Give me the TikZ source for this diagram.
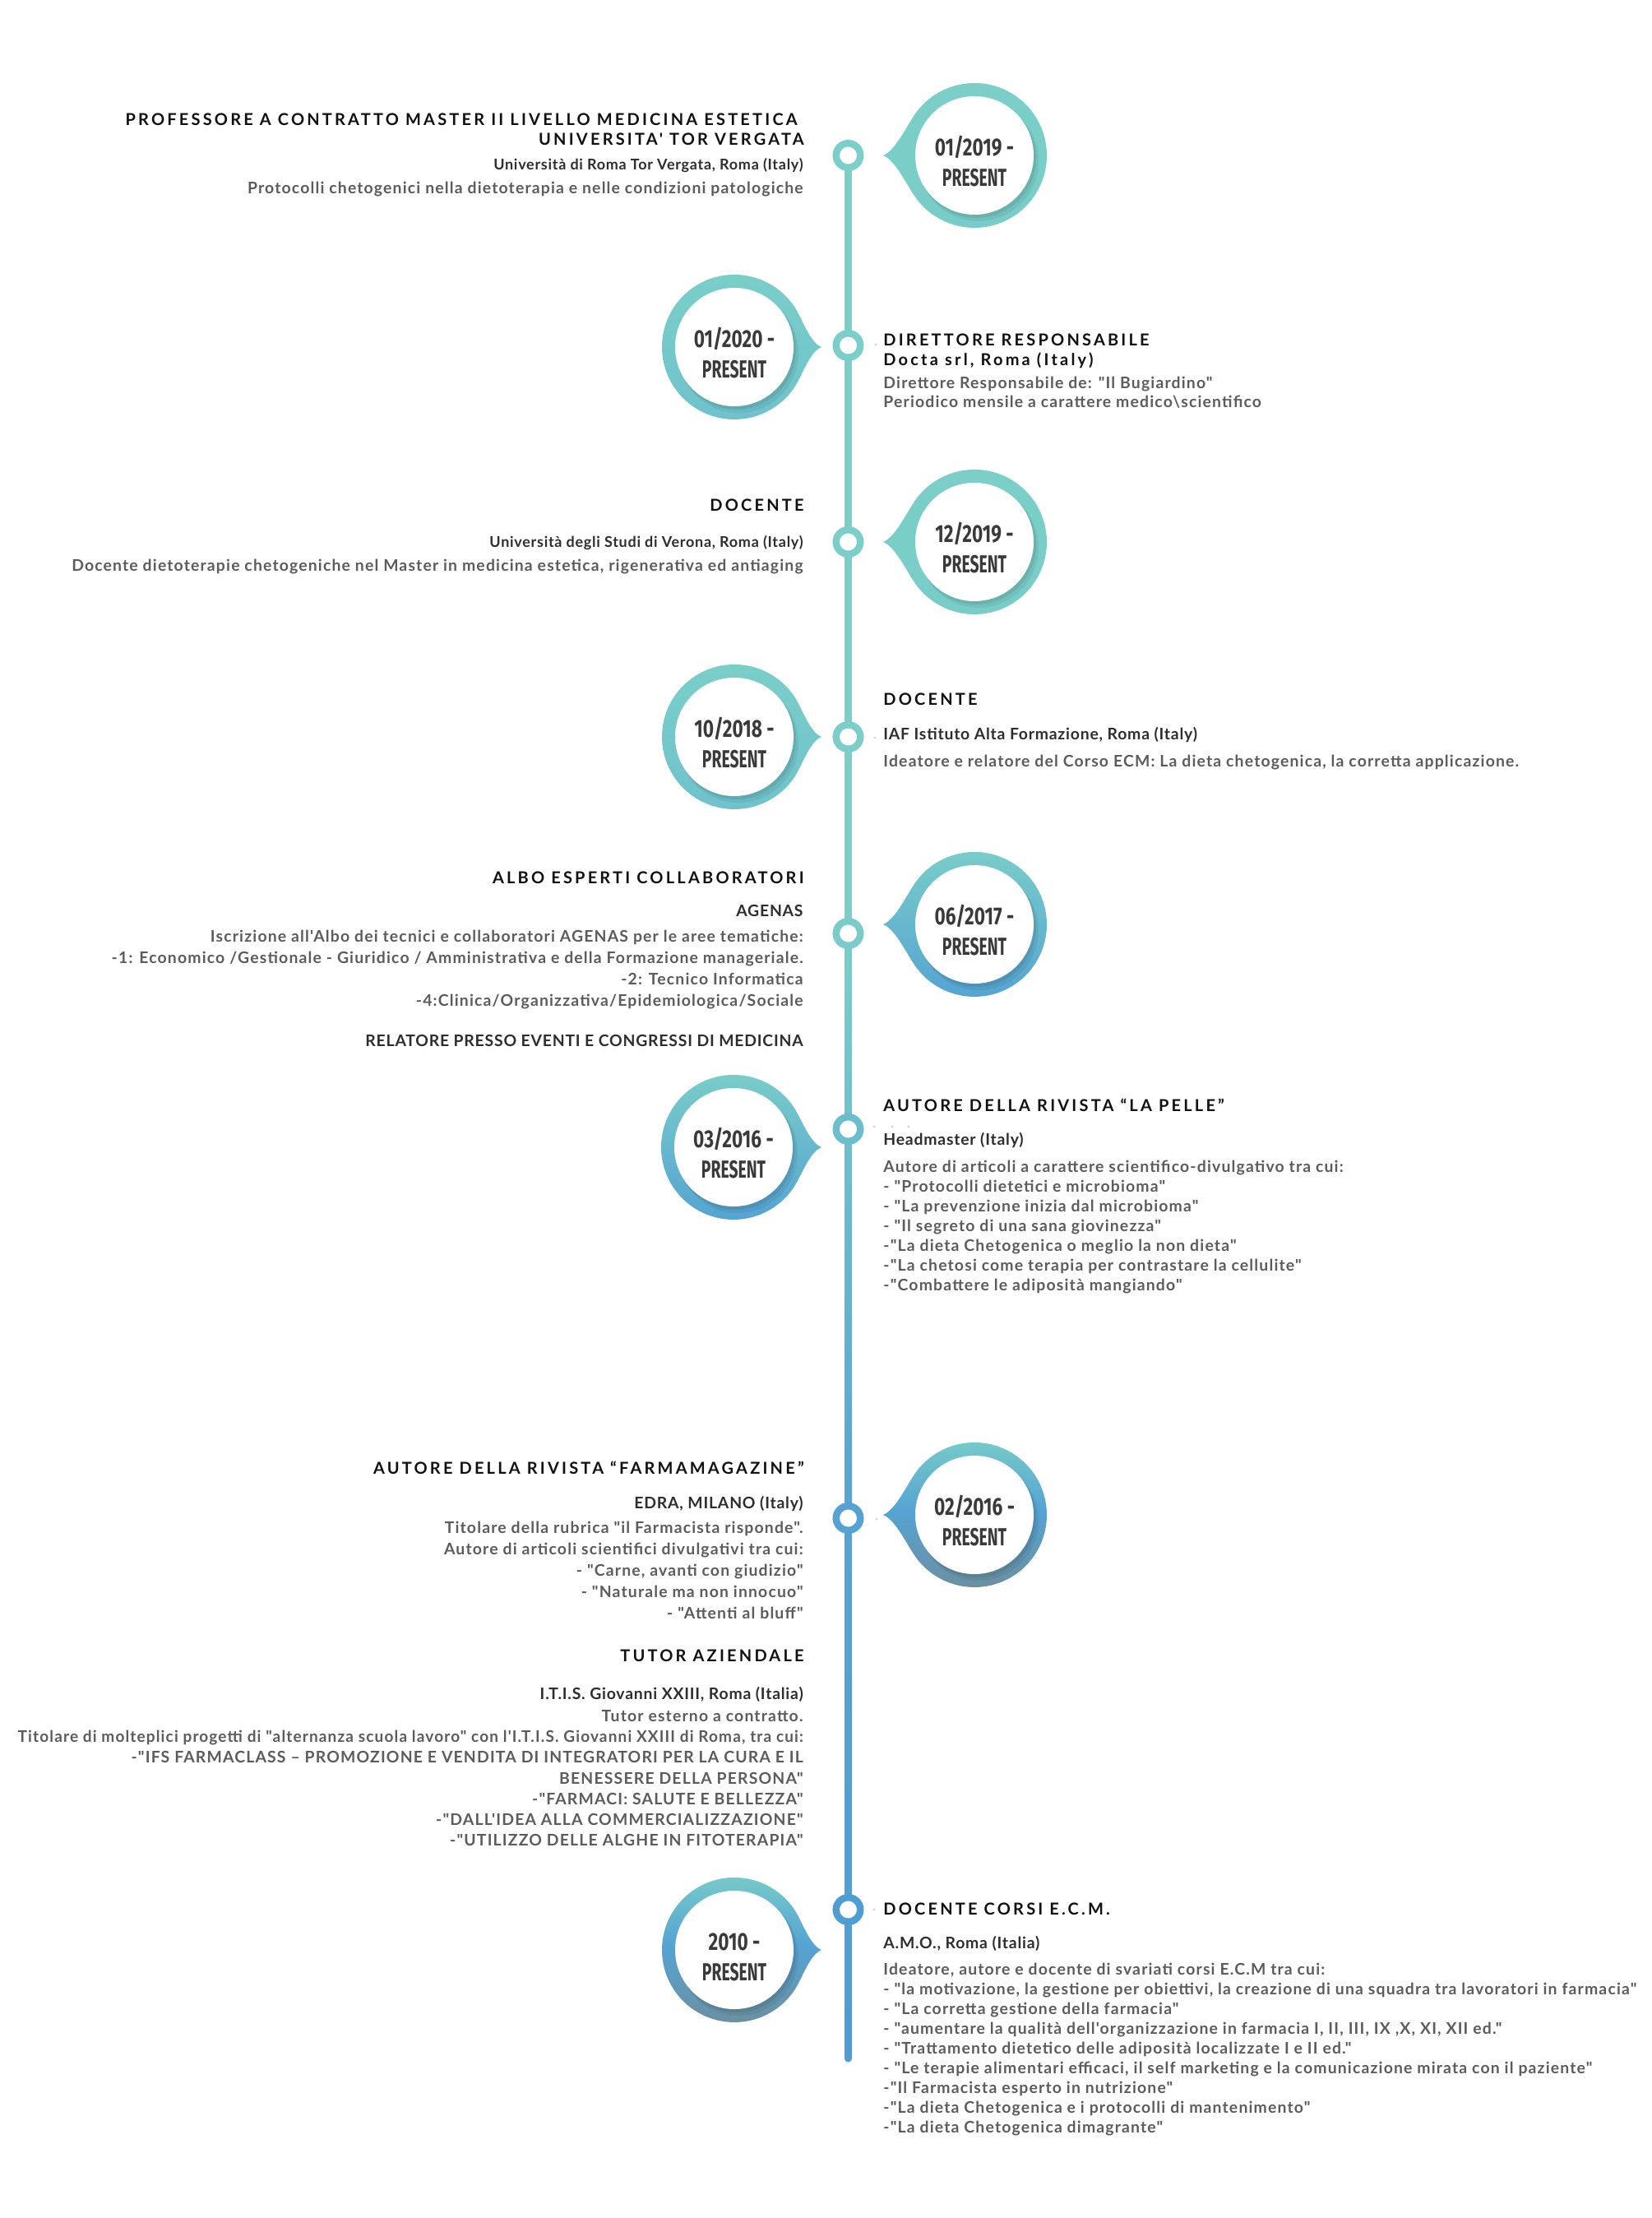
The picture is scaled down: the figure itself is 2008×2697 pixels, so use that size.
\documentclass[tikz,border=0pt]{standalone}
\usepackage{fontspec}
\setmainfont{Lato}
\newfontfamily\hfont{Lato}[LetterSpace=16]
\newfontfamily\bfont{Lato}[LetterSpace=6]
\newfontfamily\sfont{Lato}[LetterSpace=4]
\newfontfamily\dfont{Fira Sans}
\definecolor{tealc}{HTML}{7BCFC8}
\definecolor{tealb}{HTML}{6FC2CC}
\definecolor{bluec}{HTML}{55A3D3}
\definecolor{blued}{HTML}{4E9ED3}
\definecolor{grayb}{HTML}{6C8FA0}
\definecolor{headc}{HTML}{111111}
\definecolor{subc}{HTML}{2E2E2E}
\definecolor{bodyc}{HTML}{5C5C5C}
\definecolor{datec}{HTML}{3A3A3A}
\definecolor{dotc}{HTML}{D2D2D2}
\definecolor{ring6}{HTML}{6DBECC}
\definecolor{ring5}{HTML}{7ACBCA}
% bubble: #1 cx, #2 cy, #3 direction (+1 pointer right, -1 pointer left), #4 start angle, #5 end angle, #6 shading, #7 tip distance
\newcommand\bub[7]{%
  \shade[#6] ({#1+72.1*(#3)},{#2-50.5}) arc[start angle=#4,end angle=#5,radius=88]
    .. controls ({#1+82.4*(#3)},{#2+35.8}) and ({#1+(#7-15)*(#3)},{#2+6}) .. ({#1+#7*(#3)},{#2})
    .. controls ({#1+(#7-15)*(#3)},{#2-6}) and ({#1+82.4*(#3)},{#2-35.8}) .. cycle;
  \fill[black,opacity=.06] ({#1+5},{#2+7}) circle[radius=73];
  \fill[black,opacity=.07] ({#1+2.5},{#2+3.5}) circle[radius=72.5];
  \fill[white] (#1,#2) circle[radius=72];
}
\begin{document}
\begin{tikzpicture}[x=0.5pt,y=-0.5pt,
  head/.style={font=\hfont\bfseries\fontsize{10}{12}\selectfont, text=headc, inner sep=0},
  sub/.style={font=\sfont\bfseries\fontsize{9.7}{12}\selectfont, text=subc, inner sep=0},
  subn/.style={font=\sfont\bfseries\fontsize{9.0}{12}\selectfont, text=subc, inner sep=0},
  body/.style={font=\bfont\bfseries\fontsize{9.7}{12}\selectfont, text=bodyc, inner sep=0},
  L/.style={anchor=base east}, R/.style={anchor=base west},
  ring/.style={circle, fill=white, line width=4.25pt, minimum size=14.75pt, inner sep=0},
  datet/.style={font=\dfont\bfseries\fontsize{15}{15}\selectfont, text=datec, inner sep=0, anchor=base},
  dot/.style={fill=dotc}
]
\useasboundingbox (0,0) rectangle (2008,2697);
\fill[white] (0,0) rectangle (2008,2697);

% ---------- timeline positions ----------
\coordinate (p1) at (1031.5,189);
\coordinate (p2) at (1031.5,420);
\coordinate (p3) at (1031.5,659);
\coordinate (p4) at (1031.5,896);
\coordinate (p5) at (1031.5,1135);
\coordinate (p6) at (1031.5,1373);
\coordinate (p7) at (1031.5,1846);
\coordinate (p8) at (1031.5,2322);
\coordinate (lend) at (1031.5,2503);

% ---------- timeline line ----------
\fill[tealc] ([xshift=-2.25pt]p1) rectangle ([xshift=2.25pt]p5);
\shade[top color=tealc, bottom color=bluec] ([xshift=-2.25pt]p5) rectangle ([xshift=2.25pt]p7);
\shade[top color=bluec, bottom color=blued] ([xshift=-2.25pt]p7) rectangle ([xshift=2.25pt]lend);
\fill[blued] (lend) circle[radius=4.5];

% ---------- ring nodes ----------
\node[ring, draw=tealc] (n1) at (p1) {};
\node[ring, draw=tealc] (n2) at (p2) {};
\node[ring, draw=tealc] (n3) at (p3) {};
\node[ring, draw=tealc] (n4) at (p4) {};
\node[ring, draw=ring5] (n5) at (p5) {};
\node[ring, draw=ring6] (n6) at (p6) {};
\node[ring, draw=bluec] (n7) at (p7) {};
\node[ring, draw=blued] (n8) at (p8) {};

% faint dots
\foreach \dx/\dy in {1065/419,1064/897,1063/1370,1085/1370,1105/1370,1066/1847,1088/1847,1108/1847,1063/2322}
  \fill[dot] (\dx,\dy) circle[radius=1.6];

% ---------- date bubbles ----------
\bub{1185}{189}{-1}{-145}{145}{top color=tealc, bottom color=tealc!95!bluec}{111}
\bub{893}{422}{1}{-35}{-325}{top color=tealc, bottom color=tealb}{106}
\bub{1185}{659}{-1}{-145}{145}{top color=tealc, bottom color=tealc!95!bluec}{111}
\bub{893}{896}{1}{-35}{-325}{top color=tealc, bottom color=tealb}{106}
\bub{1185}{1124}{-1}{-145}{145}{top color=tealc, bottom color=bluec}{111}
\bub{892}{1395}{1}{-35}{-325}{top color=tealc, bottom color=bluec}{107}
\bub{1185}{1842}{-1}{-145}{145}{top color=tealc, bottom color=grayb, middle color=bluec}{111}
\bub{893}{2371}{1}{-35}{-325}{top color=tealc, bottom color=grayb, middle color=bluec}{106}

\node[datet] (d1a) at (1185,189.7) {\scalebox{0.755}[1]{01/2019 -}};
\node[datet] (d1b) at (1185,226.7) {\scalebox{0.645}[1]{PRESENT}};
\node[datet] (d2a) at (893,422.7) {\scalebox{0.755}[1]{01/2020 -}};
\node[datet] (d2b) at (893,459.7) {\scalebox{0.645}[1]{PRESENT}};
\node[datet] (d3a) at (1185,659.7) {\scalebox{0.755}[1]{12/2019 -}};
\node[datet] (d3b) at (1185,696.7) {\scalebox{0.645}[1]{PRESENT}};
\node[datet] (d4a) at (893,896.7) {\scalebox{0.755}[1]{10/2018 -}};
\node[datet] (d4b) at (893,933.7) {\scalebox{0.645}[1]{PRESENT}};
\node[datet] (d5a) at (1185,1124.7) {\scalebox{0.755}[1]{06/2017 -}};
\node[datet] (d5b) at (1185,1161.7) {\scalebox{0.645}[1]{PRESENT}};
\node[datet] (d6a) at (892,1395.7) {\scalebox{0.755}[1]{03/2016 -}};
\node[datet] (d6b) at (892,1432.7) {\scalebox{0.645}[1]{PRESENT}};
\node[datet] (d7a) at (1185,1842.7) {\scalebox{0.755}[1]{02/2016 -}};
\node[datet] (d7b) at (1185,1879.7) {\scalebox{0.645}[1]{PRESENT}};
\node[datet] (d8a) at (893,2371.7) {\scalebox{0.755}[1]{2010 -}};
\node[datet] (d8b) at (893,2408.7) {\scalebox{0.645}[1]{PRESENT}};

% ---------- entry 1 (left) ----------
\node[head,L] (e1h1) at (970,153) {PROFESSORE A CONTRATTO MASTER II LIVELLO MEDICINA ESTETICA};
\node[head,L] (e1h2) at (978,177) {UNIVERSITA' TOR VERGATA};
\node[subn,L] (e1s) at (977,206.5) {Università di Roma Tor Vergata, Roma (Italy)};
\node[body,L] (e1b) at (977,235.5) {Protocolli chetogenici nella dietoterapia e nelle condizioni patologiche};

% ---------- entry 2 (right) ----------
\node[head,R] (e2h1) at (1074,420) {DIRETTORE RESPONSABILE};
\node[head,R] (e2h2) at (1074,444) {Docta srl, Roma (Italy)};
\node[body,R] (e2b1) at (1074,472.5) {Direttore Responsabile de: "Il Bugiardino"};
\node[body,R] (e2b2) at (1074,495.5) {Periodico mensile a carattere medico\textbackslash scientifico};

% ---------- entry 3 (left) ----------
\node[head,L] (e3h) at (978,621) {DOCENTE};
\node[subn,L] (e3s) at (977,665.5) {Università degli Studi di Verona, Roma (Italy)};
\node[body,L] (e3b) at (977,694.5) {Docente dietoterapie chetogeniche nel Master in medicina estetica, rigenerativa ed antiaging};

% ---------- entry 4 (right) ----------
\node[head,R] (e4h) at (1074,857) {DOCENTE};
\node[sub,R] (e4s) at (1074,899.5) {IAF Istituto Alta Formazione, Roma (Italy)};
\node[body,R] (e4b) at (1074,932.5) {Ideatore e relatore del Corso ECM: La dieta chetogenica, la corretta applicazione.};

% ---------- entry 5 (left) ----------
\node[head,L] (e5h) at (978,1074) {ALBO ESPERTI COLLABORATORI};
\node[sub,L] (e5s) at (977,1114.5) {AGENAS};
\foreach \t [count=\i] in {{Iscrizione all'Albo dei tecnici e collaboratori AGENAS per le aree tematiche:},
  {-1: Economico /Gestionale - Giuridico / Amministrativa e della Formazione manageriale.},
  {-2: Tecnico Informatica},
  {-4:Clinica/Organizzativa/Epidemiologica/Sociale}}
  \node[body,L] (e5b\i) at (977,{1145.5+(\i-1)*26}) {\t};
\node[sub,L] (e5r) at (977,1272.5) {RELATORE PRESSO EVENTI E CONGRESSI DI MEDICINA};

% ---------- entry 6 (right) ----------
\node[head,R] (e6h) at (1074,1351) {AUTORE DELLA RIVISTA “LA PELLE”};
\node[sub,R] (e6s) at (1074,1392.5) {Headmaster (Italy)};
\foreach \t [count=\i] in {{Autore di articoli a carattere scientifico-divulgativo tra cui:},
  {- "Protocolli dietetici e microbioma"},
  {- "La prevenzione inizia dal microbioma"},
  {- "Il segreto di una sana giovinezza"},
  {-"La dieta Chetogenica o meglio la non dieta"},
  {-"La chetosi come terapia per contrastare la cellulite"},
  {-"Combattere le adiposità mangiando"}}
  \node[body,R] (e6b\i) at (1074,{1425.5+(\i-1)*24}) {\t};

% ---------- entry 7 (left) ----------
\node[head,L] (e7h) at (978,1792) {AUTORE DELLA RIVISTA “FARMAMAGAZINE”};
\node[sub,L] (e7s) at (977,1834.5) {EDRA, MILANO (Italy)};
\foreach \t [count=\i] in {{Titolare della rubrica "il Farmacista risponde".},
  {Autore di articoli scientifici divulgativi tra cui:},
  {- "Carne, avanti con giudizio"},
  {- "Naturale ma non innocuo"},
  {- "Attenti al bluff"}}
  \node[body,L] (e7b\i) at (977,{1864.5+(\i-1)*26}) {\t};

% ---------- entry 8 (left) ----------
\node[head,L] (e8h) at (978,2020) {TUTOR AZIENDALE};
\node[sub,L] (e8s) at (977,2066.5) {I.T.I.S. Giovanni XXIII, Roma (Italia)};
\foreach \t [count=\i] in {{Tutor esterno a contratto.},
  {\scalebox{0.98}[1]{Titolare di molteplici progetti di "alternanza scuola lavoro" con l'I.T.I.S. Giovanni XXIII di Roma, tra cui:}},
  {-"IFS FARMACLASS – PROMOZIONE E VENDITA DI INTEGRATORI PER LA CURA E IL},
  {BENESSERE DELLA PERSONA"},
  {-"FARMACI: SALUTE E BELLEZZA"},
  {-"DALL'IDEA ALLA COMMERCIALIZZAZIONE"},
  {-"UTILIZZO DELLE ALGHE IN FITOTERAPIA"}}
  \node[body,L] (e8b\i) at (977,{2093.5+(\i-1)*25.2}) {\t};

% ---------- entry 9 (right) ----------
\node[head,R] (e9h) at (1074,2328) {DOCENTE CORSI E.C.M.};
\node[sub,R] (e9s) at (1074,2369.5) {A.M.O., Roma (Italia)};
\foreach \t [count=\i] in {{Ideatore, autore e docente di svariati corsi E.C.M tra cui:},
  {- "la motivazione, la gestione per obiettivi, la creazione di una squadra tra lavoratori in farmacia"},
  {- "La corretta gestione della farmacia"},
  {- "aumentare la qualità dell'organizzazione in farmacia I, II, III, IX ,X, XI, XII ed."},
  {- "Trattamento dietetico delle adiposità localizzate I e II ed."},
  {- "Le terapie alimentari efficaci, il self marketing e la comunicazione mirata con il paziente"},
  {-"Il Farmacista esperto in nutrizione"},
  {-"La dieta Chetogenica e i protocolli di mantenimento"},
  {-"La dieta Chetogenica dimagrante"}}
  \node[body,R] (e9b\i) at (1074,{2401.5+(\i-1)*24}) {\t};
\end{tikzpicture}
\end{document}
